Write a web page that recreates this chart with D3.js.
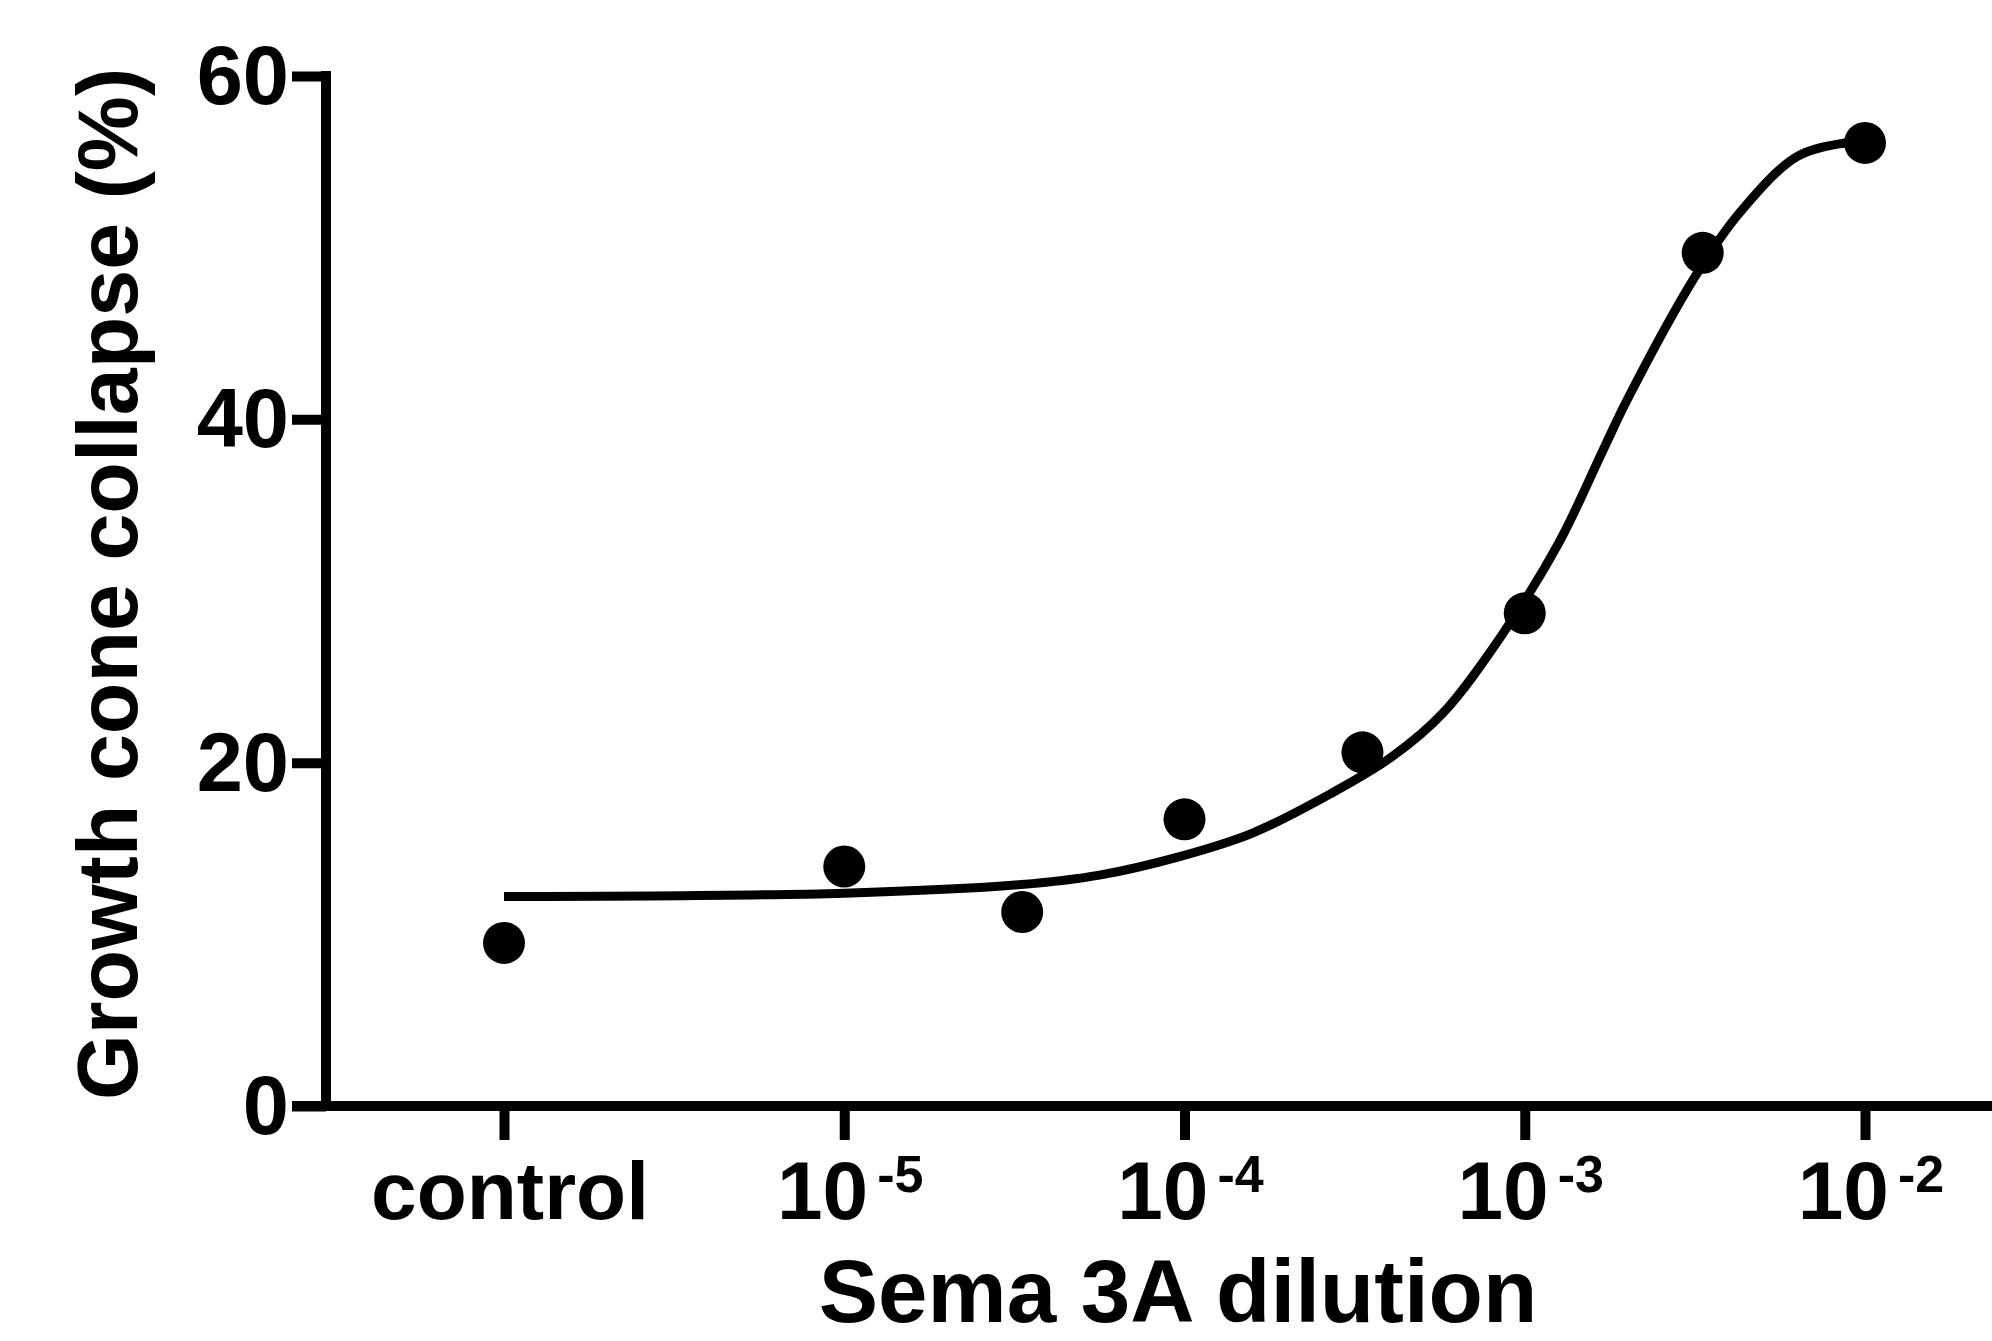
<!DOCTYPE html>
<html>
<head>
<meta charset="utf-8">
<script src="https://cdn.jsdelivr.net/npm/d3@7"></script>
<style>
  html, body { margin: 0; padding: 0; background: #fff; }
  svg { display: block; }
  text { font-family: "Liberation Sans", Arial, sans-serif; font-weight: bold; fill: #000; }
</style>
</head>
<body>
<svg id="chart" width="1992" height="1341"></svg>
<script>
// ---- data ----
const categories = ["control", "1:100000", "1:30000", "1:10000", "1:3000", "1:1000", "1:300", "1:100"];
const pointLogX = [-6, -5, -4.477, -4, -3.477, -3, -2.477, -2];           // control plotted at 10^-6
const pointY    = [9.5, 13.95, 11.3, 16.7, 20.6, 28.7, 49.7, 56.1];

// fitted curve
const curveLogX = [-6.0, -5.0, -4.48, -4.25, -4.02, -3.8, -3.57, -3.39, -3.24, -3.07, -2.9, -2.77, -2.7, -2.5, -2.37, -2.2, -2.06, -2.0];
const curveY    = [12.2, 12.4, 12.9, 13.45, 14.5, 15.9, 18.2, 20.35, 22.9, 27.35, 32.8, 38.2, 41.1, 48.3, 52.0, 55.3, 56.1, 56.2];

const xTickValues = [-6, -5, -4, -3, -2];
const xTickBase   = ["control", "10", "10", "10", "10"];
const xTickSup    = ["", "-5", "-4", "-3", "-2"];
const yTickValues = [0, 20, 40, 60];

const xTitle = "Sema 3A dilution";
const yTitle = "Growth cone collapse (%)";

// ---- layout ----
const W = 1992, H = 1341;
const axisX = 326;
const svg = d3.select("#chart");

const x = d3.scaleLinear().domain([-6, -2]).range([504, 1865]);
const y = d3.scaleLinear().domain([0, 60]).range([1106, 76]);

const axisW = 10, tickLen = 34;

// y axis
const yAxis = d3.axisLeft(y).tickValues(yTickValues).tickSize(tickLen).tickSizeOuter(0).tickPadding(3);
const gy = svg.append("g").attr("transform", `translate(${axisX},0)`).call(yAxis);
gy.select(".domain").remove();
gy.selectAll(".tick line").attr("stroke", "#000").attr("stroke-width", axisW);
gy.selectAll(".tick text")
  .attr("font-size", 83).attr("font-family", "Liberation Sans, Arial, sans-serif")
  .attr("font-weight", "bold").attr("fill", "#000").attr("dy", "0.33em");

svg.append("line")
  .attr("x1", axisX).attr("x2", axisX)
  .attr("y1", y(60) - axisW / 2).attr("y2", y(0))
  .attr("stroke", "#000").attr("stroke-width", axisW);

// x axis
svg.append("line")
  .attr("x1", axisX - tickLen).attr("x2", W)
  .attr("y1", y(0)).attr("y2", y(0))
  .attr("stroke", "#000").attr("stroke-width", axisW);

const xAxis = d3.axisBottom(x).tickValues(xTickValues).tickSize(tickLen).tickSizeOuter(0).tickFormat("");
const gx = svg.append("g").attr("transform", `translate(0,${y(0)})`).call(xAxis);
gx.select(".domain").remove();
gx.selectAll(".tick line").attr("stroke", "#000").attr("stroke-width", axisW);

xTickValues.forEach((v, i) => {
  const t = svg.append("text")
    .attr("x", x(v) + 6).attr("y", 1219)
    .attr("text-anchor", "middle")
    .attr("font-size", 82);
  t.append("tspan").text(xTickBase[i]);
  if (xTickSup[i]) {
    t.append("tspan").attr("dx", 9).attr("dy", -27).attr("font-size", 52).text(xTickSup[i]);
  }
});

// axis titles
svg.append("text")
  .attr("x", 1178).attr("y", 1322)
  .attr("text-anchor", "middle")
  .attr("font-size", 89)
  .text(xTitle);

svg.append("text")
  .attr("transform", `translate(137,584) rotate(-90)`)
  .attr("text-anchor", "middle")
  .attr("font-size", 86)
  .attr("textLength", 1032)
  .attr("lengthAdjust", "spacingAndGlyphs")
  .text(yTitle);

// curve
const line = d3.line()
  .x(d => x(d[0])).y(d => y(d[1]))
  .curve(d3.curveCatmullRom.alpha(0.5));
svg.append("path")
  .datum(curveLogX.map((v, i) => [v, curveY[i]]))
  .attr("d", line)
  .attr("fill", "none")
  .attr("stroke", "#000")
  .attr("stroke-width", 9);

// points
svg.append("g").selectAll("circle")
  .data(pointLogX.map((v, i) => ({ x: v, y: pointY[i], c: categories[i] })))
  .join("circle")
  .attr("cx", d => x(d.x))
  .attr("cy", d => y(d.y))
  .attr("r", 21)
  .attr("fill", "#000");
</script>
</body>
</html>
